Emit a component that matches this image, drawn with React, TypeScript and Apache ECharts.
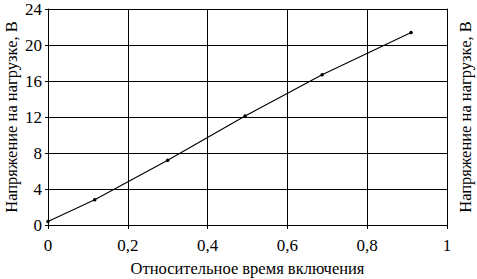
import React, { useEffect, useRef } from "react";
import * as echarts from "echarts";

const xValues = [0, 0.117, 0.3, 0.494, 0.687, 0.91];
const yValues = [0.4, 2.8, 7.2, 12.1, 16.7, 21.4];
const xTicks = [0, 0.2, 0.4, 0.6, 0.8, 1];
const yTicks = [0, 4, 8, 12, 16, 20, 24];
const xTitle = "Относительное время включения";
const yTitle = "Напряжение на нагрузке, В";

const FONT = "'Liberation Serif', 'DejaVu Serif', serif";
const FS = 17;
const TFS = 16.5;

export default function App() {
  const ref = useRef<HTMLDivElement>(null);
  useEffect(() => {
    if (!ref.current) return;
    const chart = echarts.init(ref.current, undefined, { renderer: "svg" });
    const fmt = (v: number) => String(v).replace(".", ",");
    chart.setOption({
      animation: false,
      backgroundColor: "#fff",
      grid: { left: 48, right: 30, top: 9, bottom: 54, outerBoundsMode: "none", containLabel: false },
      graphic: [
        {
          type: "text",
          x: 11,
          y: 117,
          rotation: Math.PI / 2,
          style: {
            text: yTitle,
            fontFamily: FONT,
            fontSize: TFS,
            fill: "#000",
            align: "center",
            verticalAlign: "middle",
          },
        },
      ],
      xAxis: {
        type: "value",
        min: xTicks[0],
        max: xTicks[xTicks.length - 1],
        interval: 0.2,
        name: xTitle,
        nameLocation: "middle",
        nameGap: 35,
        nameTextStyle: { fontFamily: FONT, fontSize: TFS, color: "#000", lineHeight: 16 },
        axisLine: { show: true, lineStyle: { color: "#000", width: 1 } },
        axisTick: { show: true, length: 4, lineStyle: { color: "#000" } },
        axisLabel: {
          formatter: (v: number) => fmt(v),
          fontFamily: FONT,
          fontSize: FS,
          color: "#000",
          margin: 12,
        },
        splitLine: { show: true, lineStyle: { color: "#000", width: 1 } },
      },
      yAxis: [
        {
          type: "value",
          min: yTicks[0],
          max: yTicks[yTicks.length - 1],
          interval: 4,
          position: "left",
          axisLine: { show: true, lineStyle: { color: "#000", width: 1 } },
          axisTick: { show: true, length: 3, lineStyle: { color: "#000" } },
          axisLabel: {
            formatter: (v: number) => String(v),
            fontFamily: FONT,
            fontSize: FS,
            lineHeight: 14,
            color: "#000",
            margin: 6,
          },
          splitLine: { show: true, lineStyle: { color: "#000", width: 1 } },
        },
        {
          type: "value",
          min: yTicks[0],
          max: yTicks[yTicks.length - 1],
          interval: 4,
          position: "right",
          name: yTitle,
          nameLocation: "middle",
          nameRotate: 90,
          nameGap: 10,
          nameTextStyle: { fontFamily: FONT, fontSize: TFS, color: "#000", lineHeight: 16 },
          axisLine: { show: true, lineStyle: { color: "#000", width: 1 } },
          axisTick: { show: false },
          axisLabel: { show: false },
          splitLine: { show: false },
        },
      ],
      series: [
        {
          type: "line",
          data: xValues.map((x, i) => [x, yValues[i]]),
          symbol: "circle",
          symbolSize: 3.5,
          itemStyle: { color: "#000" },
          lineStyle: { color: "#000", width: 1.1 },
        },
      ],
    });
    return () => chart.dispose();
  }, []);
  return <div ref={ref} style={{ width: 477, height: 279, position: "absolute", left: 0, top: 0 }} />;
}
